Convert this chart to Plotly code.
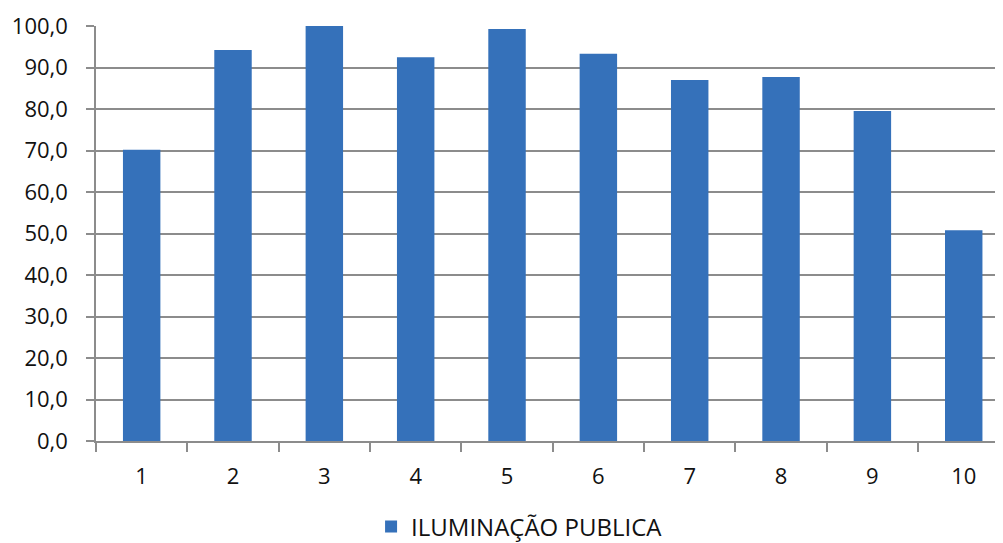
import plotly.graph_objects as go

# Dados
categorias = ["1", "2", "3", "4", "5", "6", "7", "8", "9", "10"]
valores = [70.2, 94.2, 100.0, 92.5, 99.3, 93.3, 87.0, 87.7, 79.5, 50.8]
serie_nome = "ILUMINAÇÃO PUBLICA"

fig = go.Figure()

fig.add_trace(go.Bar(
    x=categorias,
    y=valores,
    name=serie_nome,
    width=0.41,
    marker=dict(color="#3571ba", line=dict(width=0)),
    showlegend=True,
))

axis_gray = "#8c8c8c"

# the page body has an 8px margin, so the figure is made 8px smaller
fig.update_layout(
    width=995,
    height=535,
    margin=dict(l=88, r=0, t=18, b=102, autoexpand=False),
    paper_bgcolor="white",
    plot_bgcolor="white",
    separators=",.",
    font=dict(family="Open Sans, Liberation Sans, sans-serif", size=22, color="#111111"),
    showlegend=True,
    legend=dict(
        orientation="h",
        x=0.467, xanchor="center",
        yref="container",
        y=0.03, yanchor="middle",
        font=dict(size=24),
    ),
)

fig.update_xaxes(
    type="category",
    range=[-0.5, 9.43],
    automargin=False,
    showgrid=False,
    showline=True,
    linecolor=axis_gray,
    linewidth=1.5,
    ticks="outside",
    tickson="boundaries",
    ticklen=9,
    tickcolor=axis_gray,
    tickwidth=1.5,
    ticklabelstandoff=15,
)

fig.update_yaxes(
    range=[0, 100],
    dtick=10,
    tickformat=".1f",
    automargin=False,
    showgrid=True,
    gridcolor=axis_gray,
    gridwidth=1.5,
    showline=True,
    linecolor=axis_gray,
    linewidth=1.5,
    ticks="outside",
    ticklen=8,
    tickcolor=axis_gray,
    tickwidth=1.5,
    ticklabelstandoff=14,
    zeroline=False,
)

fig.write_html("out.html")
